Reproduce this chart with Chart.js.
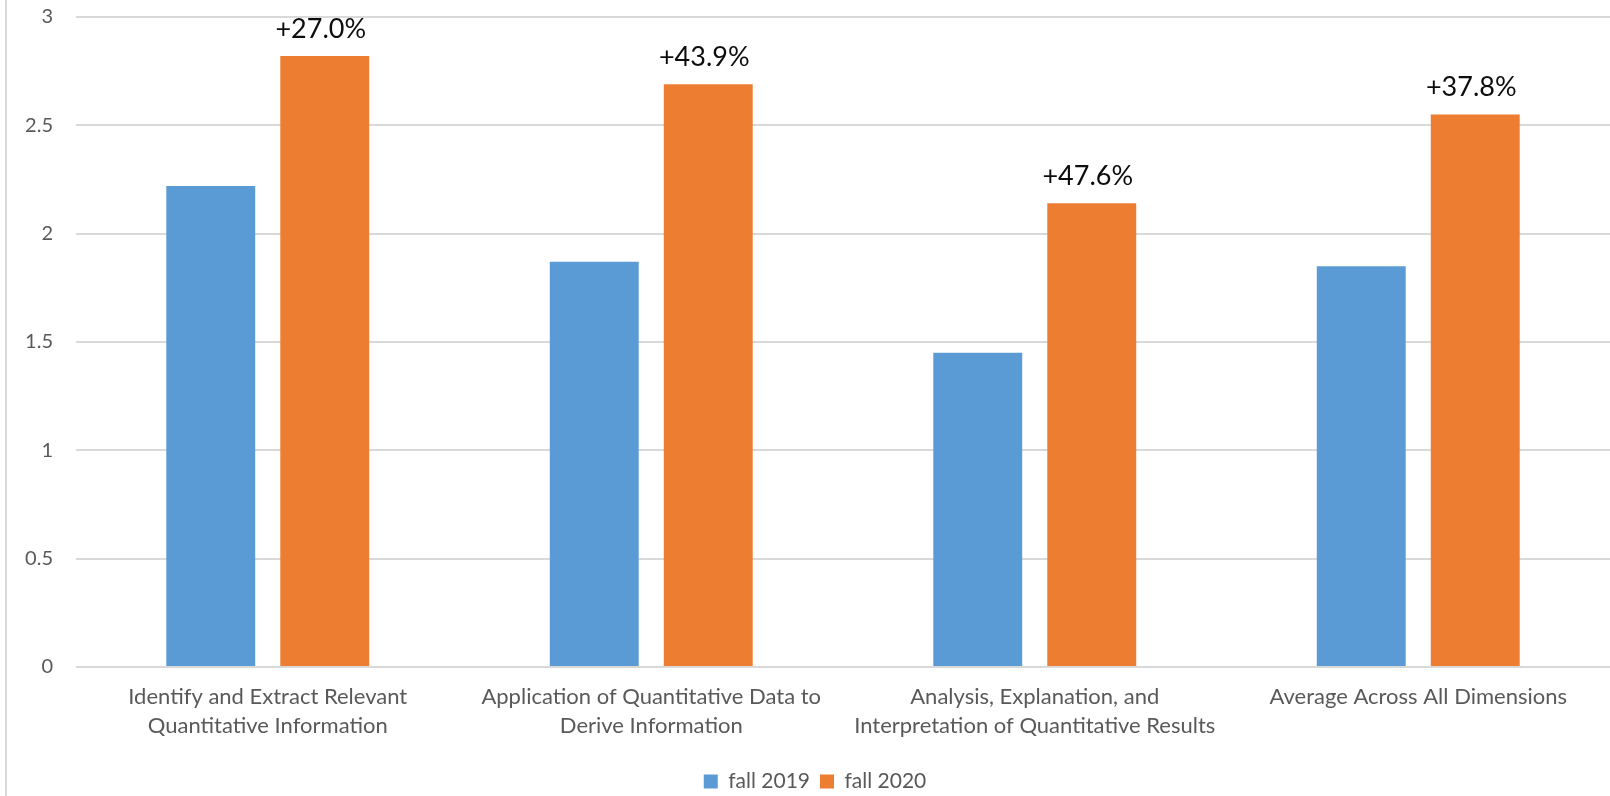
<!DOCTYPE html>
<html>
<head>
<meta charset="utf-8">
<script src="https://cdn.jsdelivr.net/npm/chart.js@4/dist/chart.umd.min.js"></script>
<style>
  html, body { margin: 0; padding: 0; background: #fff; }
  #wrap { position: relative; width: 1610px; height: 796px; }
  #edge { position: absolute; left: 5px; top: 0; width: 2px; height: 796px; background: #d9d9d9; }
</style>
</head>
<body>
<div id="wrap">
  <canvas id="chart" width="1610" height="796"></canvas>
  <div id="edge"></div>
</div>
<script>
const categories = [
    ['Identify and Extract Relevant', 'Quantitative Information'],
    ['Application of Quantitative Data to', 'Derive Information'],
    ['Analysis, Explanation, and', 'Interpretation of Quantitative Results'],
    ['Average Across All Dimensions']
];
const fall2019 = [2.22, 1.87, 1.45, 1.85];
const fall2020 = [2.82, 2.69, 2.14, 2.55];
const changeLabels = ['+27.0%', '+43.9%', '+47.6%', '+37.8%'];

const fontFamily = 'Lato, "Open Sans", sans-serif';

// writes the % change above each fall 2020 bar
const changeLabelPlugin = {
    id: 'changeLabels',
    afterDatasetsDraw(chart) {
        const ctx = chart.ctx;
        const meta = chart.getDatasetMeta(1);
        ctx.save();
        ctx.font = '27px ' + fontFamily;
        ctx.fillStyle = '#0d0d0d';
        ctx.textAlign = 'center';
        ctx.textBaseline = 'middle';
        meta.data.forEach((bar, i) => {
            ctx.fillText(changeLabels[i], bar.x - 4, bar.y - 27);
        });
        ctx.restore();
    }
};

new Chart(document.getElementById('chart'), {
    type: 'bar',
    data: {
        labels: categories,
        datasets: [
            { label: 'fall 2019', data: fall2019, backgroundColor: '#5b9bd5', categoryPercentage: 0.5945, barPercentage: 0.78 },
            { label: 'fall 2020', data: fall2020, backgroundColor: '#ed7d31', categoryPercentage: 0.5945, barPercentage: 0.78 }
        ]
    },
    options: {
        responsive: false,
        animation: false,
        layout: { padding: { top: 0, left: 20, right: 0, bottom: -6 } },
        scales: {
            x: {
                grid: { display: false, drawTicks: false },
                border: { display: false },
                ticks: { color: '#595959', padding: 15, maxRotation: 0, font: { family: fontFamily, size: 22, lineHeight: 1.32 } },
                afterFit(scale) { scale.height = 94; }
            },
            y: {
                min: 0,
                max: 3,
                grid: { color: '#d9d9d9', lineWidth: 2, drawTicks: false },
                border: { display: false },
                ticks: {
                    stepSize: 0.5, color: '#595959', padding: 23, font: { family: fontFamily, size: 20 },
                    callback: (v) => String(v)
                },
                afterFit(scale) {
                    scale.width = 56;
                    scale.paddingTop = 17;
                    scale.paddingBottom = 0;
                }
            }
        },
        plugins: {
            legend: {
                position: 'bottom',
                labels: { color: '#595959', boxWidth: 14, boxHeight: 14, padding: 10, font: { family: fontFamily, size: 21 } }
            },
            tooltip: { enabled: false }
        }
    },
    plugins: [changeLabelPlugin]
});
</script>
</body>
</html>
